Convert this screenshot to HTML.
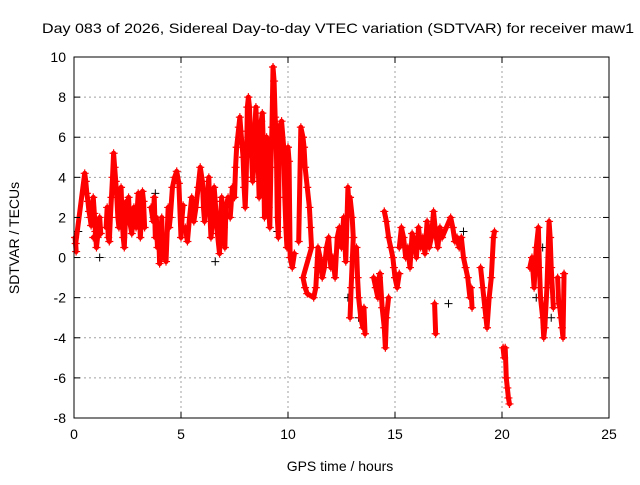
<!DOCTYPE html>
<html><head><meta charset="utf-8"><style>
body{margin:0;background:#fff;}
svg text{font-family:"Liberation Sans",sans-serif;font-size:14px;fill:#000;}
</style></head><body>
<svg id="chart" width="640" height="480" viewBox="0 0 640 480" xmlns="http://www.w3.org/2000/svg">
<rect width="640" height="480" fill="#fff"/>
<g id="grid"></g><g id="series"></g><g id="axes"></g>
</svg>
<script>
const xTicks=[0,5,10,15,20,25];
const yTicks=[-8,-6,-4,-2,0,2,4,6,8,10];
const titleText="Day 083 of 2026, Sidereal Day-to-day VTEC variation (SDTVAR) for receiver maw1";
const redGroups=[
[[0.05,1.0],[0.1,0.3],[0.08,0.7],[0.5,4.2],[0.55,3.8],[0.6,3.2],[0.65,2.8],[0.7,2.3],[0.75,2.0],[0.8,1.6],[0.85,2.5],[0.9,3.0],[0.95,2.2],[1.0,1.3],[1.05,0.5],[1.1,1.0],[1.15,1.5],[1.2,2.0],[1.25,1.2],[0.9,1.0]],
[[1.5,1.5],[1.55,2.5],[1.6,1.0],[1.65,0.8],[1.7,2.0],[1.75,3.0],[1.8,4.0],[1.85,5.2],[1.9,4.5],[1.95,3.8],[2.0,3.0],[2.05,2.0],[2.1,1.5],[2.15,2.5],[2.2,3.5],[2.25,2.0],[2.3,1.0],[2.35,0.5],[2.4,1.8],[2.45,2.8],[2.5,2.2],[2.55,3.0],[2.6,1.8],[2.7,1.2],[2.8,2.5],[2.9,1.5],[3.0,3.2],[3.05,2.5],[3.1,1.0],[3.15,2.0],[3.2,3.3],[3.25,2.8],[3.3,1.5]],
[[3.6,2.5],[3.7,1.8],[3.75,3.0],[3.8,1.0],[3.85,2.0],[3.9,0.5],[3.95,1.5],[4.0,-0.3],[4.05,0.8],[4.1,2.0],[4.15,0.0],[4.2,1.0],[4.3,-0.2],[4.4,2.5],[4.45,1.5],[4.5,2.0],[4.6,3.5],[4.7,4.0],[4.8,4.3],[4.9,3.7],[5.0,1.0],[5.05,2.0],[5.1,2.6]],
[[5.2,1.5],[5.3,0.8],[5.4,2.0],[5.5,3.0],[5.6,1.8],[5.7,2.5],[5.8,3.5],[5.9,4.5],[6.0,3.8],[6.05,2.5],[6.1,1.8],[6.2,3.0],[6.3,4.0],[6.35,2.2],[6.4,1.0],[6.5,2.0],[6.55,3.5],[6.6,2.8],[6.7,1.2],[6.8,0.2],[6.85,2.0],[6.9,3.0],[7.0,1.5],[7.05,0.5],[7.1,2.5],[7.2,3.0]],
[[7.3,2.0],[7.4,3.5],[7.5,3.0],[7.55,4.5],[7.6,5.5],[7.7,6.5],[7.75,7.0],[7.8,6.3],[7.9,5.0],[7.95,3.5],[8.0,2.5],[8.05,4.0],[8.1,7.5],[8.15,8.0],[8.2,7.5],[8.25,6.0],[8.3,5.0],[8.35,3.8],[8.4,4.5],[8.45,6.5],[8.5,7.5],[8.55,6.0],[8.6,5.0],[8.65,3.0],[8.7,4.0],[8.75,6.8],[8.8,7.2],[8.85,5.5],[8.9,2.0],[8.95,3.0],[9.0,6.0],[9.05,5.0],[9.1,2.5],[9.15,1.5],[9.2,4.5],[9.25,6.5],[9.3,9.5],[9.35,8.8],[9.4,7.0],[9.45,6.0],[9.5,2.0],[9.55,1.0],[9.6,6.5],[9.7,6.8],[9.8,5.5],[9.85,3.0],[9.9,1.5],[9.95,0.5],[10.0,5.5],[10.05,4.8],[10.1,0.0],[10.2,-0.5],[10.3,0.2]],
[[10.5,0.8],[10.6,6.5],[10.7,6.0],[10.75,5.5],[10.8,4.5],[10.9,3.5],[11.0,2.5],[11.05,1.5],[11.1,0.5],[10.7,-1.0],[10.8,-1.5],[10.9,-1.8],[11.2,-2.0],[11.3,-1.5],[11.35,-0.5],[11.4,0.5],[11.5,0.0],[11.6,-1.0],[11.7,-0.5],[11.8,0.5],[11.9,1.0],[12.0,-0.5],[12.1,0.0],[12.2,-1.0],[12.3,1.0],[12.4,1.5],[12.5,0.5],[12.6,2.0],[12.7,-0.2],[12.8,3.5],[12.85,2.5],[12.9,3.0],[13.0,2.0],[13.05,1.0],[12.95,-1.5],[12.9,-3.0]],
[[13.2,0.5],[13.25,-1.0],[13.3,-2.0],[13.4,-3.0],[13.5,-3.5],[13.55,-2.5],[13.6,-3.8]],
[[14.0,-1.0],[14.1,-1.5],[14.2,-2.0],[14.25,-1.0],[14.3,-0.8],[14.4,-2.5],[14.5,-3.5],[14.55,-4.5],[14.6,-3.0],[14.7,-2.0]],
[[14.5,2.3],[14.6,1.8],[14.7,1.0],[14.8,0.5],[14.9,0.0],[14.95,-0.5],[15.0,-1.0],[15.1,-1.5],[15.2,-0.8]],
[[15.2,0.5],[15.3,1.5],[15.4,1.0],[15.5,0.0],[15.6,0.5],[15.7,-0.5],[15.8,1.2],[15.9,0.8],[16.0,0.0],[16.1,1.5],[16.2,0.5],[16.3,1.0],[16.4,0.2],[16.5,1.8],[16.6,0.5],[16.7,1.0],[16.8,2.3],[16.9,1.2],[17.0,0.5],[17.1,1.5],[17.2,1.0],[17.6,2.0],[17.7,1.5],[17.8,0.8],[17.9,1.0],[18.0,0.5]],
[[16.85,-2.3],[16.9,-3.8]],
[[18.1,1.0],[18.2,0.0],[18.3,-0.5],[18.4,-1.0],[18.5,-2.0],[18.55,-1.5],[18.6,-2.5]],
[[19.0,-0.5],[19.1,-1.5],[19.2,-2.5],[19.25,-3.0],[19.3,-3.5],[19.4,-2.0],[19.5,-1.0],[19.55,0.0],[19.6,1.0],[19.65,1.3]],
[[20.05,-4.5],[20.1,-5.0],[20.15,-4.5],[20.2,-6.0],[20.25,-6.5],[20.3,-7.0],[20.35,-7.3]],
[[21.3,-0.5],[21.4,0.0],[21.5,-1.5],[21.6,0.5],[21.7,1.5],[21.75,-0.5],[21.8,-2.0],[21.9,-3.0],[21.95,-4.0],[22.0,-3.5],[22.1,-1.5],[22.2,1.8],[22.25,1.0],[22.3,-0.5],[22.4,-2.5]],
[[22.6,-1.0],[22.65,-2.3],[22.7,-2.5],[22.75,-3.0],[22.8,-3.5],[22.85,-4.0],[22.9,-0.8]]
];
const blackPoints=[[0.2,1.3],[1.2,0.0],[3.8,3.2],[6.6,-0.2],[9.5,1.3],[12.8,-2.0],[13.3,-3.0],[17.5,-2.3],[18.2,1.3],[21.9,0.5],[22.3,-3.0],[21.6,-2.0]];

const X0=74,X1=609,Y0=418,Y1=57,xMin=0,xMax=25,yMin=-8,yMax=10;
const sx=v=>X0+(v-xMin)/(xMax-xMin)*(X1-X0);
const sy=v=>Y0-(v-yMin)/(yMax-yMin)*(Y0-Y1);
const NS="http://www.w3.org/2000/svg";
function mk(tag,attrs,parent){const e=document.createElementNS(NS,tag);for(const k in attrs)e.setAttribute(k,attrs[k]);parent.appendChild(e);return e;}
const grid=document.getElementById('grid'),axes=document.getElementById('axes'),ser=document.getElementById('series');
xTicks.forEach(t=>{
 const x=sx(t);
 if(t>xMin&&t<xMax){const g=mk('line',{x1:x,x2:x,y1:Y0,y2:Y1,stroke:'#a0a0a0','stroke-dasharray':'2,3','stroke-width':1},grid);
 
 }
 const l=mk('line',{x1:x,x2:x,y1:Y0,y2:Y0-6,stroke:'#000'},axes);
 
 
 const l2=mk('line',{x1:x,x2:x,y1:Y1,y2:Y1+6,stroke:'#000'},axes);
 
 
 const tx=mk('text',{x:x,y:Y0+21,'text-anchor':'middle'},axes);tx.textContent=t;
 
 
});
yTicks.forEach(t=>{
 const y=sy(t);
 if(t>yMin&&t<yMax){const g=mk('line',{x1:X0,x2:X1,y1:y,y2:y,stroke:'#a0a0a0','stroke-dasharray':'2,3','stroke-width':1},grid);
 
 }
 const l=mk('line',{x1:X0,x2:X0+6,y1:y,y2:y,stroke:'#000'},axes);
 
 
 const l2=mk('line',{x1:X1,x2:X1-6,y1:y,y2:y,stroke:'#000'},axes);
 
 
 const tx=mk('text',{x:X0-8,y:y+5,'text-anchor':'end'},axes);tx.textContent=t;
 
 
});
const fr=mk('rect',{x:X0,y:Y1,width:X1-X0,height:Y0-Y1,fill:'none',stroke:'#000'},axes);


const tt=mk('text',{x:338,y:33,'text-anchor':'middle','font-size':'16px',textLength:592,lengthAdjust:'spacingAndGlyphs'},axes);tt.textContent=titleText;


const xl=mk('text',{x:340,y:471,'text-anchor':'middle'},axes);xl.textContent="GPS time / hours";


const yl=mk('text',{x:19,y:238,'text-anchor':'middle',transform:'rotate(-90 19 238)'},axes);yl.textContent="SDTVAR / TECUs";


function plus(p){const x=sx(p[0]),y=sy(p[1]);return `M${x-4},${y}h8M${x},${y-4}v8`;}
let bd='';blackPoints.forEach(p=>bd+=plus(p));
const bp=mk('path',{d:bd,stroke:'#000',fill:'none','stroke-width':1},ser);


redGroups.forEach(g=>{
 const pl=mk('polyline',{points:g.map(p=>sx(p[0])+','+sy(p[1])).join(' '),stroke:'#ff0000',fill:'none','stroke-width':5,'stroke-linejoin':'round','stroke-linecap':'round'},ser);
 
 
 let d='';g.forEach(p=>d+=plus(p));
 const pp=mk('path',{d:d,stroke:'#ff0000',fill:'none','stroke-width':1.2},ser);
 
 
});
</script>
</body></html>
